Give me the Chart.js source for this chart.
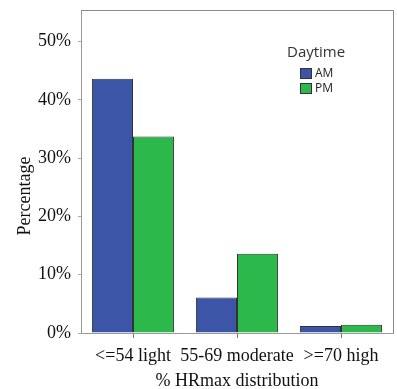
<!DOCTYPE html>
<html>
<head>
<meta charset="utf-8">
<script src="https://cdn.jsdelivr.net/npm/chart.js@4/dist/chart.umd.min.js"></script>
<style>
  html, body { margin: 0; padding: 0; background: #fff; }
  #wrap { width: 397px; height: 389px; }
</style>
</head>
<body>
<div id="wrap"><canvas id="chart"></canvas></div>
<script>
// values
const categories = ['<=54 light', '55-69 moderate', '>=70 high'];
const amValues = [43.6, 6.1, 1.2];
const pmValues = [33.7, 13.6, 1.4];
const yTicks = [0, 10, 20, 30, 40, 50];
const seriesNames = ['AM', 'PM'];
const legendTitle = 'Daytime';

const BLUE = '#3d55a6';
const GREEN = '#2db84b';
const SERIF = '"Liberation Serif", "Times New Roman", serif';

// top/right frame, y title and the legend box
const extras = {
  id: 'extras',
  afterDraw(chart) {
    const { ctx, chartArea: a } = chart;
    ctx.save();
    ctx.strokeStyle = '#8a8a8a';
    ctx.lineWidth = 1;
    ctx.beginPath();
    ctx.moveTo(a.left, a.top + 0.5);
    ctx.lineTo(a.right + 0.5, a.top + 0.5);
    ctx.lineTo(a.right + 0.5, a.bottom);
    ctx.stroke();

    ctx.fillStyle = '#111';
    ctx.font = '18px ' + SERIF;
    ctx.textAlign = 'center';
    ctx.textBaseline = 'middle';
    ctx.translate(25, 196);
    ctx.rotate(-Math.PI / 2);
    ctx.fillText('Percentage', 0, 0);
    ctx.restore();

    ctx.save();
    ctx.fillStyle = '#333';
    ctx.font = '15px "Open Sans", sans-serif';
    ctx.textBaseline = 'middle';
    ctx.fillText(legendTitle, 287, 53);
    ctx.font = '12px "Open Sans", sans-serif';
    chart.data.datasets.forEach((ds, i) => {
      const y = 68 + i * 15;
      ctx.fillStyle = ds.backgroundColor;
      ctx.fillRect(300, y, 12, 11);
      ctx.strokeStyle = '#333';
      ctx.strokeRect(300.5, y + 0.5, 11, 10);
      ctx.fillStyle = '#222';
      ctx.fillText(ds.label, 315, y + 6);
    });
    ctx.restore();
  }
};

new Chart(document.getElementById('chart'), {
  type: 'bar',
  data: {
    labels: categories,
    datasets: [
      { label: seriesNames[0], data: amValues, backgroundColor: BLUE, borderColor: '#333', borderWidth: 1 },
      { label: seriesNames[1], data: pmValues, backgroundColor: GREEN, borderColor: '#333', borderWidth: 1 }
    ]
  },
  options: {
    responsive: true,
    maintainAspectRatio: false,
    animation: false,
    layout: { padding: { top: 10, right: 4, left: 0, bottom: 0 } },
    datasets: { bar: { categoryPercentage: 0.79, barPercentage: 1 } },
    plugins: {
      legend: { display: false },
      tooltip: { enabled: false }
    },
    scales: {
      x: {
        grid: { display: true, drawOnChartArea: false, offset: false, tickLength: 5, color: '#777' },
        border: { color: '#999' },
        ticks: { color: '#111', font: { family: SERIF, size: 18 }, maxRotation: 0, autoSkip: false, padding: 7 },
        title: { display: true, text: '% HRmax distribution', color: '#111', font: { family: SERIF, size: 18, lineHeight: 0.85 }, padding: { top: 4, bottom: 0 } },
        afterFit(scale) { scale.height = 56; }
      },
      y: {
        min: 0,
        max: 55.4,
        afterBuildTicks(scale) { scale.ticks = yTicks.map(v => ({ value: v })); },
        grid: { display: true, drawOnChartArea: false, tickLength: 3, color: '#aaa' },
        border: { color: '#999' },
        ticks: { color: '#111', font: { family: SERIF, size: 18 }, padding: 7, callback: v => v + '%' },
        afterFit(scale) { scale.width = 81; scale.paddingTop = 0; scale.paddingBottom = 0; }
      }
    }
  },
  plugins: [extras]
});
</script>
</body>
</html>
